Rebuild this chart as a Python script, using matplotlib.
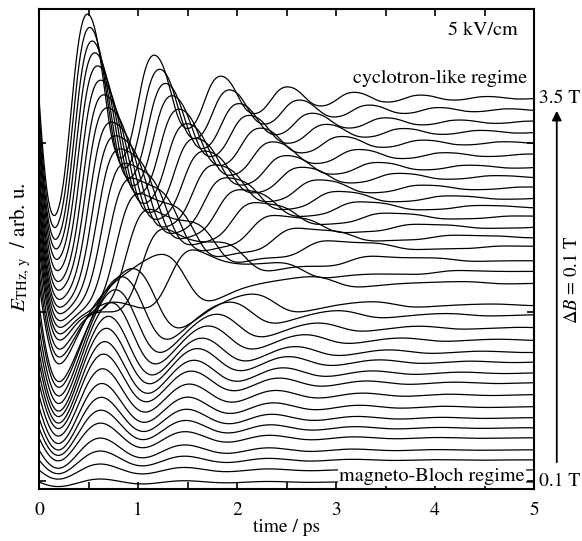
import numpy as np
import matplotlib.pyplot as plt

plt.rcParams['font.family'] = 'STIXGeneral'
plt.rcParams['mathtext.fontset'] = 'stix'

# campo magnetico de cada traza (T), de 0.1 a 3.5 en pasos de 0.1
campo_b = [0.1, 0.2, 0.3, 0.4, 0.5, 0.6, 0.7, 0.8, 0.9, 1.0,
           1.1, 1.2, 1.3, 1.4, 1.5, 1.6, 1.7, 1.8, 1.9, 2.0,
           2.1, 2.2, 2.3, 2.4, 2.5, 2.6, 2.7, 2.8, 2.9, 3.0,
           3.1, 3.2, 3.3, 3.4, 3.5]

# nivel de cada traza en t = 5 ps (desplazamiento vertical, unidades arb.)
nivel = [7, 19, 29, 39, 51, 61, 71, 82, 94, 106,
         116, 127, 137, 149, 161, 174, 184, 206, 217, 229,
         242, 252, 262, 272, 282, 291, 301, 312, 322, 334,
         346, 357, 367, 379, 391]

# parametros
periodo_bloch = 0.85     # ps, periodo de las trazas de campo bajo
omega_35 = 9.7           # 1/ps, frecuencia tipo ciclotron a 3.5 T
exponente = 1.5          # dependencia de la frecuencia con el campo
amplitud = 56.0          # arb. u. por tesla
tau = 1.0                # ps, decaimiento

# tiempo y movimiento semiclasico (pendulo) para cada campo
t = np.arange(0, 5.0005, 0.002)
b = np.array(campo_b)
w_bloch = 2 * np.pi / periodo_bloch
omega2 = (omega_35 * (b / 3.5) ** exponente) ** 2

q = np.zeros_like(b)
w = -w_bloch * np.ones_like(b)
fase = [q.copy()]
dt = t[1] - t[0]
for _ in range(len(t) - 1):
    k1q, k1w = w, -omega2 * np.sin(q)
    k2q, k2w = w + 0.5 * dt * k1w, -omega2 * np.sin(q + 0.5 * dt * k1q)
    k3q, k3w = w + 0.5 * dt * k2w, -omega2 * np.sin(q + 0.5 * dt * k2q)
    k4q, k4w = w + dt * k3w, -omega2 * np.sin(q + dt * k3q)
    q = q + dt / 6 * (k1q + 2 * k2q + 2 * k3q + k4q)
    w = w + dt / 6 * (k1w + 2 * k2w + 2 * k3w + k4w)
    fase.append(q.copy())
fase = np.array(fase)

fig = plt.figure(figsize=(5.82, 5.41), dpi=100)
ax = fig.add_axes([39 / 582, 1 - 489 / 541, 495 / 582, 480 / 541])

for i in range(len(campo_b)):
    senal = amplitud * b[i] * np.sin(fase[:, i]) * np.exp(-t / tau)
    ax.plot(t, nivel[i] + senal, color='black', linewidth=0.9)

ax.set_xlim(0, 5)
ax.set_ylim(0, 480)
ax.set_xticks([0, 1, 2, 3, 4, 5])
ax.set_xticks([0.5, 1.5, 2.5, 3.5, 4.5], minor=True)
ax.set_yticks([8, 177, 346])
ax.set_yticklabels([])
ax.tick_params(axis='both', which='both', direction='in', top=True, right=True,
               length=5, width=1.2, labelsize=14, pad=9)
for s in ax.spines.values():
    s.set_linewidth(1.5)

ax.set_xlabel('time / ps', fontsize=14, labelpad=0)
fig.text(20 / 582, (541 - 247) / 541, r'$E_{\rm THz,\,y}$  / arb. u.', rotation=90,
         ha='center', va='center', fontsize=15)

ax.text(4.48, 459, '5 kV/cm', ha='center', va='center', fontsize=14.5)
ax.text(4.05, 411, 'cyclotron-like regime', ha='center', va='center', fontsize=14.5)
ax.text(3.97, 13, 'magneto-Bloch regime', ha='center', va='center', fontsize=14.5,
        bbox=dict(facecolor='white', edgecolor='none', pad=1))

ax.text(5.05, 391, '3.5 T', ha='left', va='center', fontsize=14, clip_on=False)
ax.text(5.05, 8, '0.1 T', ha='left', va='center', fontsize=14, clip_on=False)
ax.annotate('', xy=(5.23, 381), xytext=(5.23, 24), annotation_clip=False,
            arrowprops=dict(arrowstyle='-|>', color='black', lw=1.3, mutation_scale=14))
ax.text(5.38, 209, r'$\Delta B$ = 0.1 T', rotation=90, ha='center', va='center',
        fontsize=13.5, clip_on=False)

fig.savefig('out.png', dpi=100)
